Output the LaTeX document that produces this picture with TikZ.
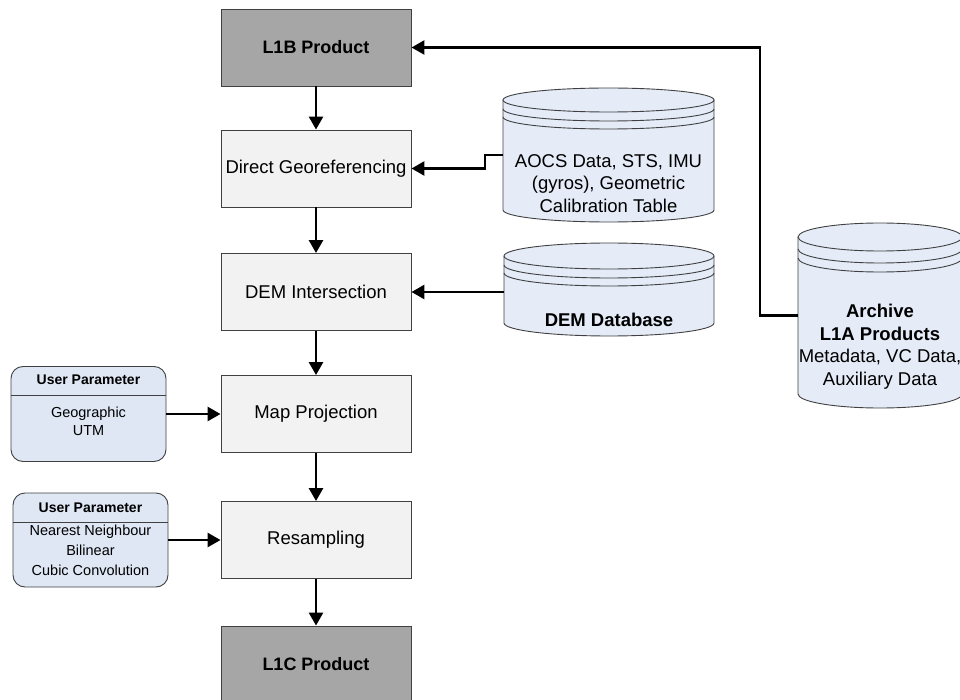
\documentclass[tikz,border=0pt]{standalone}
\usepackage{fontspec}
\setmainfont{Liberation Sans}
\usetikzlibrary{arrows.meta,calc}

\definecolor{productgray}{HTML}{A6A6A6}
\definecolor{stepfill}{HTML}{F2F2F2}
\definecolor{storefill}{HTML}{E5ECF8}
\definecolor{paramfill}{HTML}{DFE7F5}
\definecolor{edgegray}{HTML}{404040}

\tikzset{
  stepbox/.style={draw=edgegray, line width=0.9pt, fill=stepfill,
    minimum width=190pt, minimum height=77pt, inner sep=0pt,
    font=\fontsize{18.5}{22}\selectfont},
  productbox/.style={stepbox, fill=productgray,
    font=\fontsize{18}{22}\selectfont\bfseries},
  parambox/.style={draw=edgegray, line width=0.9pt, fill=paramfill,
    rounded corners=12pt, minimum width=155pt, inner sep=0pt},
  storeline/.style={draw=edgegray, line width=0.9pt},
  flow/.style={line width=2.6pt, -{Triangle[length=13pt,width=14pt]}},
  maintext/.style={align=center, inner sep=0pt,
    font=\fontsize{18.5}{22.5}\selectfont},
  paramhead/.style={inner sep=0pt, font=\fontsize{14}{16}\selectfont\bfseries},
  paramtext/.style={align=center, inner sep=0pt},
  paramrule/.style={draw=edgegray, line width=0.9pt},
}

% Database cylinder: #1 name, #2 centre x, #3 top ellipse y, #4 bottom ellipse y,
% #5 x radius, #6 y radius, #7 and #8 offsets of the two rings under the lid
\newcommand\datastore[8]{%
  \fill[storefill] (#2-#5,#3) -- (#2-#5,#4)
    arc[start angle=180,end angle=360,x radius=#5,y radius=#6]
    -- (#2+#5,#3)
    arc[start angle=0,end angle=180,x radius=#5,y radius=#6] -- cycle;
  \draw[storeline] (#2-#5,#3) -- (#2-#5,#4)
    arc[start angle=180,end angle=360,x radius=#5,y radius=#6]
    -- (#2+#5,#3);
  \draw[storeline] (#2,#3) ellipse[x radius=#5,y radius=#6];
  \draw[storeline] (#2-#5,#3-#7)
    arc[start angle=180,end angle=360,x radius=#5,y radius=#6];
  \draw[storeline] (#2-#5,#3-#8)
    arc[start angle=180,end angle=360,x radius=#5,y radius=#6];
  \node[inner sep=0pt, minimum width={2*#5}, minimum height={#3-(#4)+2*#6}]
    (#1) at (#2,{(#3+#4)/2}) {};
}

\begin{document}
\begin{tikzpicture}[x=1pt,y=1pt]
  \clip (0,0) rectangle (960,-700);

  % processing chain
  \node[productbox] (l1b)     at (316,-47.5)  {L1B Product};
  \node[stepbox]    (dg)      at (316,-168.5) {Direct Georeferencing};
  \node[stepbox]    (demint)  at (316,-292)   {DEM Intersection};
  \node[stepbox]    (mapproj) at (316,-414)   {Map Projection};
  \node[stepbox]    (resamp)  at (316,-540)   {Resampling};
  \node[productbox] (l1c)     at (316,-664.5) {L1C Product};

  % data stores
  \datastore{aocs}{608.5}{-100}{-210}{105.5}{12}{9}{17}
  \node[maintext] (aocs-txt) at (608.5,-183.5)
    {AOCS Data, STS, IMU\\(gyros), Geometric\\Calibration Table};

  \datastore{demdb}{609}{-256}{-323}{105}{13}{9}{17}
  \node[maintext, font=\fontsize{18.5}{22.5}\selectfont\bfseries] (demdb-txt)
    at (609,-320) {DEM Database};

  \datastore{archive}{880}{-237}{-394}{82}{14}{12}{21}
  \node[maintext] (archive-txt) at (880,-346.5)
    {\textbf{Archive}\\\textbf{L1A Products}\\Metadata, VC Data,\\Auxiliary Data};

  % user parameters
  \node[parambox, minimum height=95pt] (up1) at (88.5,-414) {};
  \coordinate (up1-rule) at (88.5,-395);
  \draw[paramrule] (up1.west |- up1-rule) -- (up1.east |- up1-rule);
  \node[paramhead] (up1-head) at (88.5,-380) {User Parameter};
  \node[paramtext, font=\fontsize{14.5}{18}\selectfont] (up1-body)
    at (88.5,-421) {Geographic\\UTM};

  \node[parambox, minimum height=94pt] (up2) at (90.5,-540) {};
  \coordinate (up2-rule) at (90.5,-522);
  \draw[paramrule] (up2.west |- up2-rule) -- (up2.east |- up2-rule);
  \node[paramhead] (up2-head) at (90.5,-507.5) {User Parameter};
  \node[paramtext, font=\fontsize{14.5}{20}\selectfont] (up2-body)
    at (90.5,-550) {Nearest Neighbour\\Bilinear\\Cubic Convolution};

  % connectors
  \draw[flow] (l1b) -- (dg);
  \draw[flow] (dg) -- (demint);
  \draw[flow] (demint) -- (mapproj);
  \draw[flow] (mapproj) -- (resamp);
  \draw[flow] (resamp) -- (l1c);
  \draw[flow] (aocs.west) -- ++(-18,0) |- (dg.east);
  \draw[flow] (demdb.west |- demint.east) -- (demint.east);
  \draw[flow] (archive.west) -- ++(-38,0) |- (l1b.east);
  \draw[flow] (up1) -- (mapproj);
  \draw[flow] (up2) -- (resamp);
\end{tikzpicture}
\end{document}
